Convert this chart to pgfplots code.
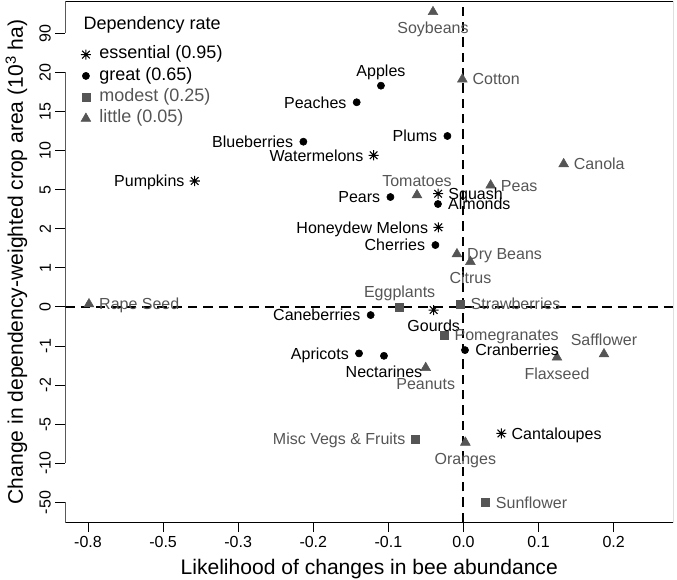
\documentclass[border=0pt]{standalone}
\usepackage{pgfplots}
\usepackage{pgfplotstable}
\usepackage{fontspec}
\pgfplotsset{compat=1.18}
\setmainfont{Liberation Sans}

\definecolor{rgrey}{HTML}{555555}

% R's pch 8: a plus sign laid over a cross
\pgfdeclareplotmark{rstar}{%
  \pgfpathmoveto{\pgfqpoint{-\pgfplotmarksize}{0pt}}%
  \pgfpathlineto{\pgfqpoint{\pgfplotmarksize}{0pt}}%
  \pgfpathmoveto{\pgfqpoint{0pt}{-\pgfplotmarksize}}%
  \pgfpathlineto{\pgfqpoint{0pt}{\pgfplotmarksize}}%
  \pgfpathmoveto{\pgfqpoint{-0.75\pgfplotmarksize}{-0.75\pgfplotmarksize}}%
  \pgfpathlineto{\pgfqpoint{0.75\pgfplotmarksize}{0.75\pgfplotmarksize}}%
  \pgfpathmoveto{\pgfqpoint{-0.75\pgfplotmarksize}{0.75\pgfplotmarksize}}%
  \pgfpathlineto{\pgfqpoint{0.75\pgfplotmarksize}{-0.75\pgfplotmarksize}}%
  \pgfusepathqstroke}

% label placement as in R's text(pos=): 1 below, 2 left, 3 above, 4 right
\tikzset{
  lab1/.style={anchor=base, yshift=-16.3pt},
  lab2/.style={anchor=base east, xshift=-7.5pt, yshift=-4.3pt},
  lab3/.style={anchor=base, yshift=6.6pt},
  lab4/.style={anchor=base west, xshift=7.5pt, yshift=-4.3pt},
}

\pgfplotsset{
  labset/.style 2 args={
    forget plot, draw=none, mark=none,
    nodes near coords, point meta=explicit symbolic,
    restrict expr to domain={\thisrow{pos}}{#1:#1},
    every node near coord/.append style={font=\fontsize{12}{14}\selectfont,
      text=#2, inner sep=0pt, lab#1},
  },
}
\newcommand\croplabels[2]{%
  \addplot[labset={1}{#2}] table[x=x, y=y, meta=lab] {#1};
  \addplot[labset={2}{#2}] table[x=x, y=y, meta=lab] {#1};
  \addplot[labset={3}{#2}] table[x=x, y=y, meta=lab] {#1};
  \addplot[labset={4}{#2}] table[x=x, y=y, meta=lab] {#1};
}

% x, y are positions on the chart's stretched scales (one unit = one tick)
\pgfplotstableread{
x y lab pos
-1.196 3.879 Watermelons 2
-3.579 3.222 Pumpkins 2
-0.337 2.897 Squash 4
-0.334 2.037 {Honeydew Melons} 2
-0.397 -0.079 Gourds 1
0.505 -3.234 Cantaloupes 4
}\essential

\pgfplotstableread{
x y lab pos
-1.099 5.660 Apples 3
-1.422 5.235 Peaches 2
-0.214 4.373 Plums 2
-2.132 4.227 Blueberries 2
-0.973 2.812 Pears 2
-0.340 2.633 Almonds 4
-0.374 1.584 Cherries 2
-1.236 -0.207 Caneberries 2
-1.391 -1.187 Apricots 2
-1.059 -1.249 Nectarines 1
0.020 -1.103 Cranberries 4
}\great

\pgfplotstableread{
x y lab pos
-0.850 0.005 Eggplants 3
-0.041 0.074 Strawberries 4
-0.254 -0.719 Pomegranates 4
-0.636 -3.373 {Misc Vegs \& Fruits} 2
0.296 -5.000 Sunflower 4
}\modest

\pgfplotstableread{
x y lab pos
-0.406 7.546 Soybeans 1
-0.015 5.824 Cotton 4
1.334 3.657 Canola 4
-0.619 2.863 Tomatoes 3
0.362 3.112 Peas 4
-0.087 1.354 {Dry Beans} 4
0.092 1.157 Citrus 1
-4.987 0.074 {Rape Seed} 4
1.245 -1.290 Flaxseed 1
1.871 -1.205 Safflower 3
-0.503 -1.556 Peanuts 1
0.025 -3.465 Oranges 1
}\little

\begin{document}
\begin{tikzpicture}
\begin{axis}[
  scale only axis,
  width=455.6pt, height=390pt,
  xmin=-5.30, xmax=2.79, ymin=-5.50, ymax=7.80,
  axis line style={draw=none},
  xtick={-5,...,2},
  xticklabels={-0.8,-0.5,-0.3,-0.2,-0.1,0.0,0.1,0.2},
  ytick={-5,...,7},
  yticklabels={-50,-10,-5,-2,-1,0,1,2,5,10,15,20,90},
  xtick pos=left, ytick pos=left,
  tick align=outside, major tick length=7.5pt,
  tick style={black, line width=0.75pt},
  ticklabel style={font=\fontsize{12}{14}\selectfont},
  yticklabel style={rotate=90, anchor=south},
  xlabel={Likelihood of changes in bee abundance},
  ylabel={Change in dependency-weighted crop area (10\textsuperscript{3} ha)},
  label style={font=\fontsize{15.8}{18}\selectfont},
  xlabel style={at={(axis description cs:0.5,-0.1)}, anchor=base},
  ylabel style={at={(axis description cs:-0.07,0.5)}, anchor=base},
  legend style={draw=none, fill=none, at={(axis description cs:0.0183,0.925)},
    anchor=north west, font=\fontsize{13.5}{16}\selectfont,
    nodes={text height=9.5pt, text depth=3pt, inner ysep=1.75pt}},
  legend cell align=left,
  legend image code/.code={\draw[#1] plot coordinates {(0pt,0pt)}; \path (7.75pt,0pt);},
]
\coordinate (bl) at (rel axis cs:0,0);
\coordinate (tr) at (rel axis cs:1,1);

% frame, with the breaks in the left axis
\draw[black, line width=0.75pt] (axis cs:-5.30,7) -- (axis cs:-5.30,7.80) -- (axis cs:2.79,7.80)
  -- (axis cs:2.79,-5.50) -- (axis cs:-5.30,-5.50) -- (axis cs:-5.30,-5);
\draw[black, line width=0.75pt] (axis cs:-5.30,6) -- (axis cs:-5.30,-4);

% zero lines
\draw[black, line width=1.5pt, dash pattern=on 7pt off 4.5pt] (axis cs:-5.30,0) -- (axis cs:2.79,0);
\draw[black, line width=1.5pt, dash pattern=on 7pt off 4.5pt] (axis cs:0,-5.50) -- (axis cs:0,7.80);

\addplot[only marks, mark=rstar, mark size=3.8pt, black, line width=0.8pt]
  table[x=x, y=y] {\essential};
\addlegendentry{essential (0.95)}
\addplot[only marks, mark=*, mark size=2.7pt, black]
  table[x=x, y=y] {\great};
\addlegendentry{great (0.65)}
\addplot[only marks, mark=square*, mark size=3pt, rgrey, mark options={draw=rgrey, fill=rgrey}]
  table[x=x, y=y] {\modest};
\addlegendentry[text=rgrey]{modest (0.25)}
\addplot[only marks, mark=triangle*, mark size=4.2pt, rgrey, mark options={draw=rgrey, fill=rgrey}]
  table[x=x, y=y] {\little};
\addlegendentry[text=rgrey]{little (0.05)}

\croplabels{\essential}{black}
\croplabels{\great}{black}
\croplabels{\modest}{rgrey}
\croplabels{\little}{rgrey}

\node[anchor=base west, font=\fontsize{13.5}{16}\selectfont, inner sep=0pt]
  at (axis description cs:0.0293,0.948) {Dependency rate};
\end{axis}
\pgfresetboundingbox
\path[use as bounding box] ([xshift=-49.1pt, yshift=-42.75pt]bl) rectangle ([xshift=3pt, yshift=1.5pt]tr);
\end{tikzpicture}
\end{document}
